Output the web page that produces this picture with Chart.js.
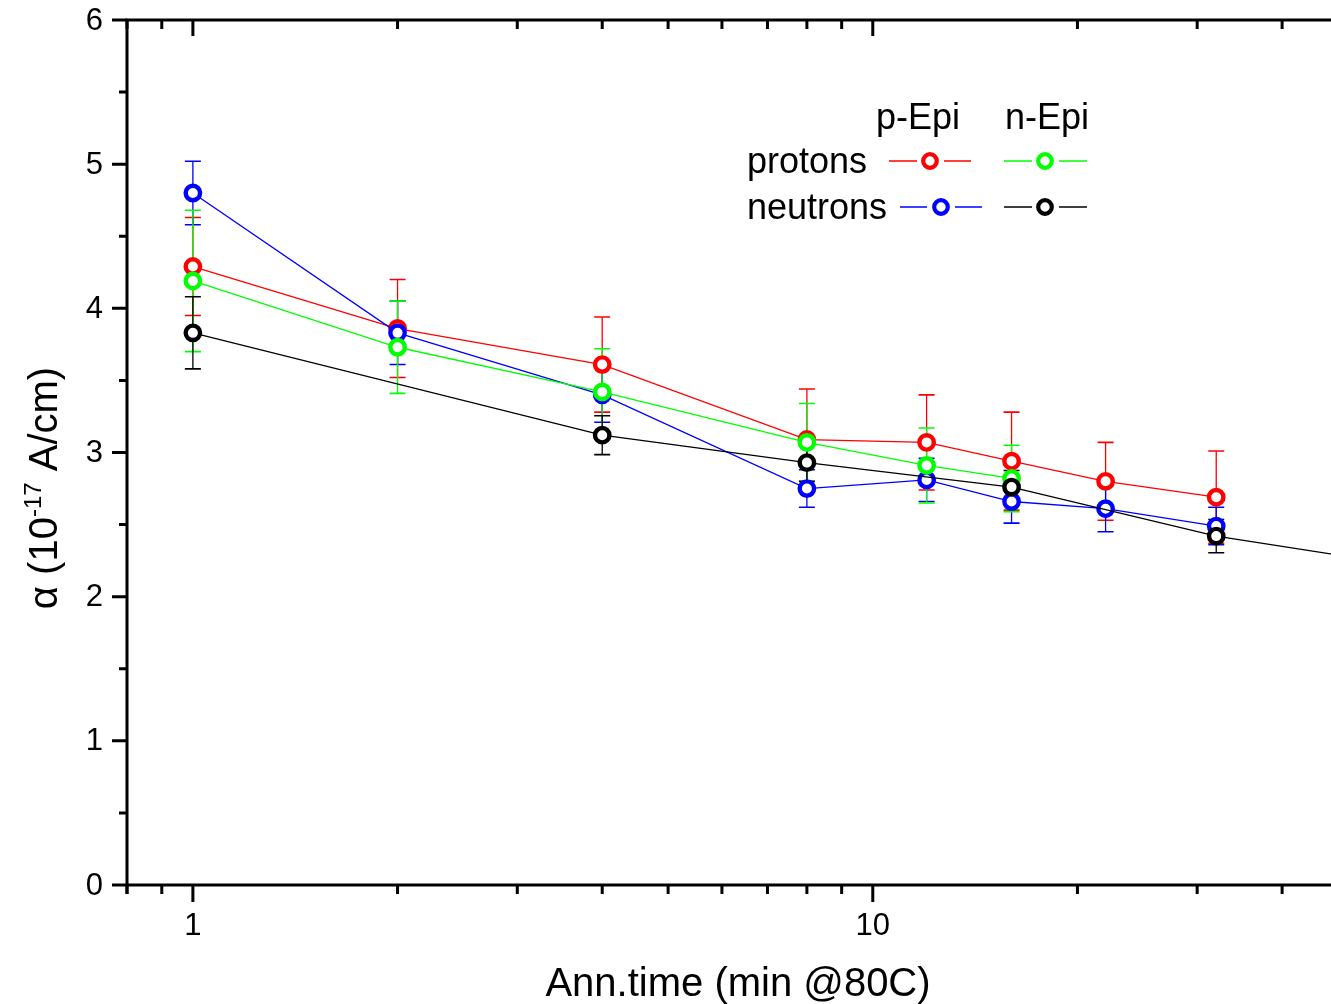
<!DOCTYPE html>
<html><head><meta charset="utf-8">
<script src="https://cdn.jsdelivr.net/npm/chart.js@4.4.0/dist/chart.umd.min.js"></script>
<style>html,body{margin:0;padding:0;overflow:hidden;background:#fff}#wrap{position:relative;width:1360px;height:1004px}</style>
</head><body><div id="wrap"><canvas id="c" width="1360" height="1004"></canvas></div>
<script>
// ---- data ----
const annTimes = [1, 2, 4, 8, 12, 16, 22, 32];
const annTimesPEpiProtons = [1, 2, 4, 8, 12, 16];
const annTimesNEpiNeutrons = [1, 4, 8, 16, 32, 64];

const protonsPEpi = [4.29, 3.86, 3.61, 3.09, 3.07, 2.94, 2.80, 2.69];
const protonsPEpiErr = [0.34, 0.34, 0.33, 0.35, 0.33, 0.34, 0.27, 0.32];
const neutronsPEpi = [4.80, 3.83, 3.40, 2.75, 2.81, 2.66, 2.61, 2.49];
const neutronsPEpiErr = [0.22, 0.22, 0.19, 0.13, 0.15, 0.15, 0.16, 0.13];
const protonsNEpi = [4.19, 3.73, 3.42, 3.07, 2.91, 2.82];
const protonsNEpiErr = [0.49, 0.32, 0.30, 0.27, 0.26, 0.23];
const neutronsNEpi = [3.83, 3.12, 2.93, 2.76, 2.42, 2.20];
const neutronsNEpiErr = [0.25, 0.135, 0.13, 0.115, 0.115, null];

const xTickValues = [0.8, 0.9, 1, 2, 3, 4, 5, 6, 7, 8, 9, 10, 20, 30, 40, 50];
const xMajorTicks = [1, 10];
const xTickLabels = ['1', '10'];
const yTickLabels = ['0', '1', '2', '3', '4', '5', '6'];
const yMinorTicks = [0.5, 1.5, 2.5, 3.5, 4.5, 5.5];

const xTitle = 'Ann.time (min @80C)';
const yTitleParts = ['\u03B1 (10', '-17', ' A/cm)'];
const legendCols = ['p-Epi', 'n-Epi'];
const legendRows = ['protons', 'neutrons'];

const FONT = '"Liberation Sans", Arial, Helvetica, sans-serif';

function pts(xs, ys) { return xs.map((x, i) => ({x: x, y: ys[i]})); }

const seriesDefs = [
  {label: 'protons p-Epi', xs: annTimes, ys: protonsPEpi, err: protonsPEpiErr, color: '#ff0000', order: 4},
  {label: 'neutrons p-Epi', xs: annTimes, ys: neutronsPEpi, err: neutronsPEpiErr, color: '#0000ff', order: 3},
  {label: 'protons n-Epi', xs: annTimesPEpiProtons, ys: protonsNEpi, err: protonsNEpiErr, color: '#00ff00', order: 2},
  {label: 'neutrons n-Epi', xs: annTimesNEpiNeutrons, ys: neutronsNEpi, err: neutronsNEpiErr, color: '#000000', order: 1}
];

const datasets = seriesDefs.map(s => ({
  label: s.label,
  data: pts(s.xs, s.ys),
  errors: s.err,
  borderColor: s.color,
  backgroundColor: '#ffffff',
  pointBackgroundColor: '#ffffff',
  pointBorderColor: s.color,
  pointBorderWidth: 4.4,
  pointRadius: 7.2,
  borderWidth: 1.3,
  tension: 0,
  order: s.order
}));

const errorBars = {
  id: 'errorBars',
  beforeDatasetsDraw(chart) {
    const ctx = chart.ctx, ca = chart.chartArea;
    const xs = chart.scales.x, ys = chart.scales.y;
    ctx.save();
    ctx.beginPath(); ctx.rect(ca.left, ca.top, ca.right - ca.left, ca.bottom - ca.top); ctx.clip();
    chart.data.datasets.forEach(ds => {
      ctx.strokeStyle = ds.borderColor;
      ds.data.forEach((p, i) => {
        const e = ds.errors[i];
        if (e == null) return;
        const px = xs.getPixelForValue(p.x);
        const y1 = ys.getPixelForValue(p.y + e), y2 = ys.getPixelForValue(p.y - e);
        ctx.lineWidth = 1.3;
        ctx.beginPath(); ctx.moveTo(px, y1); ctx.lineTo(px, y2); ctx.stroke();
        ctx.lineWidth = 1.6;
        ctx.beginPath();
        ctx.moveTo(px - 8, y1); ctx.lineTo(px + 8, y1);
        ctx.moveTo(px - 8, y2); ctx.lineTo(px + 8, y2);
        ctx.stroke();
      });
    });
    ctx.restore();
  }
};

const frame = {
  id: 'frame',
  afterDraw(chart) {
    const ctx = chart.ctx, ca = chart.chartArea;
    const xs = chart.scales.x, ys = chart.scales.y;
    ctx.save();
    ctx.strokeStyle = '#000'; ctx.lineWidth = 3; ctx.lineCap = 'butt';
    ctx.beginPath();
    ctx.moveTo(ca.left, ca.top - 1.5); ctx.lineTo(ca.left, ca.bottom + 9);
    ctx.moveTo(ca.left - 1.5, ca.bottom); ctx.lineTo(ca.right, ca.bottom);
    ctx.moveTo(ca.left - 1.5, ca.top); ctx.lineTo(ca.right, ca.top);
    ctx.stroke();
    // y ticks
    ctx.beginPath();
    yTickLabels.forEach(t => { const py = ys.getPixelForValue(Number(t)); ctx.moveTo(ca.left - 15, py); ctx.lineTo(ca.left, py); });
    yMinorTicks.forEach(v => { const py = ys.getPixelForValue(v); ctx.moveTo(ca.left - 8, py); ctx.lineTo(ca.left, py); });
    // x ticks bottom (out) and top (in)
    xTickValues.forEach(v => {
      const px = xs.getPixelForValue(v);
      const major = xMajorTicks.includes(v);
      ctx.moveTo(px, ca.bottom); ctx.lineTo(px, ca.bottom + (major ? 17 : 9));
      ctx.moveTo(px, ca.top); ctx.lineTo(px, ca.top + (major ? 16 : 9));
    });
    ctx.stroke();

    // tick labels
    ctx.fillStyle = '#000';
    ctx.font = '31px ' + FONT;
    ctx.textAlign = 'right'; ctx.textBaseline = 'middle';
    yTickLabels.forEach(t => { ctx.fillText(t, 103, ys.getPixelForValue(Number(t)) + 1); });
    ctx.textAlign = 'center'; ctx.textBaseline = 'alphabetic';
    xMajorTicks.forEach((v, i) => { ctx.fillText(xTickLabels[i], xs.getPixelForValue(v), 935); });

    // axis titles
    ctx.font = '40px ' + FONT;
    ctx.textAlign = 'center'; ctx.textBaseline = 'alphabetic';
    ctx.fillText(xTitle, 738, 996);

    // y title with superscript
    ctx.save();
    ctx.translate(57, 488);
    ctx.rotate(-Math.PI / 2);
    const big = '40px ' + FONT, small = '24px ' + FONT;
    ctx.font = big; const w0 = ctx.measureText(yTitleParts[0]).width;
    ctx.font = small; const w1 = ctx.measureText(yTitleParts[1]).width;
    ctx.font = big; const w2 = ctx.measureText(yTitleParts[2]).width;
    let x0 = -(w0 + w1 + w2) / 2;
    ctx.textAlign = 'left';
    ctx.font = big; ctx.fillText(yTitleParts[0], x0, 0);
    ctx.font = small; ctx.fillText(yTitleParts[1], x0 + w0, -16);
    ctx.font = big; ctx.fillText(yTitleParts[2], x0 + w0 + w1, 0);
    ctx.restore();

    // legend
    ctx.font = '36px ' + FONT;
    ctx.textAlign = 'center';
    ctx.fillText(legendCols[0], 918, 129);
    ctx.fillText(legendCols[1], 1047, 129);
    ctx.textAlign = 'left';
    ctx.fillText(legendRows[0], 747, 173);
    ctx.fillText(legendRows[1], 747, 219);
    const samples = [
      {c: seriesDefs[0].color, y: 161, a: 889, b: 917, m: 930, d: 944, e: 971},
      {c: seriesDefs[2].color, y: 161, a: 1004, b: 1032, m: 1045, d: 1059, e: 1087},
      {c: seriesDefs[1].color, y: 207, a: 900, b: 927, m: 941, d: 955, e: 982},
      {c: seriesDefs[3].color, y: 207, a: 1004, b: 1032, m: 1045, d: 1059, e: 1087}
    ];
    samples.forEach(s => {
      ctx.strokeStyle = s.c; ctx.lineWidth = 1.3;
      ctx.beginPath(); ctx.moveTo(s.a, s.y); ctx.lineTo(s.b, s.y); ctx.moveTo(s.d, s.y); ctx.lineTo(s.e, s.y); ctx.stroke();
      ctx.lineWidth = 4.2; ctx.fillStyle = '#fff';
      ctx.beginPath(); ctx.arc(s.m, s.y, 6.8, 0, Math.PI * 2); ctx.fill(); ctx.stroke();
    });
    ctx.restore();
  }
};

new Chart(document.getElementById('c'), {
  type: 'line',
  data: {datasets: datasets},
  plugins: [errorBars, frame],
  options: {
    responsive: false,
    devicePixelRatio: 1,
    animation: false,
    layout: {padding: {left: 127, top: 20, right: 12, bottom: 119}},
    plugins: {legend: {display: false}, tooltip: {enabled: false}},
    scales: {
      x: {
        type: 'logarithmic', min: 0.8, max: 50, position: 'bottom', display: false,
        afterBuildTicks: s => { s.ticks = xTickValues.map(v => ({value: v})); }
      },
      y: {
        type: 'linear', min: 0, max: 6, display: false
      }
    }
  }
});
</script>
</body></html>
